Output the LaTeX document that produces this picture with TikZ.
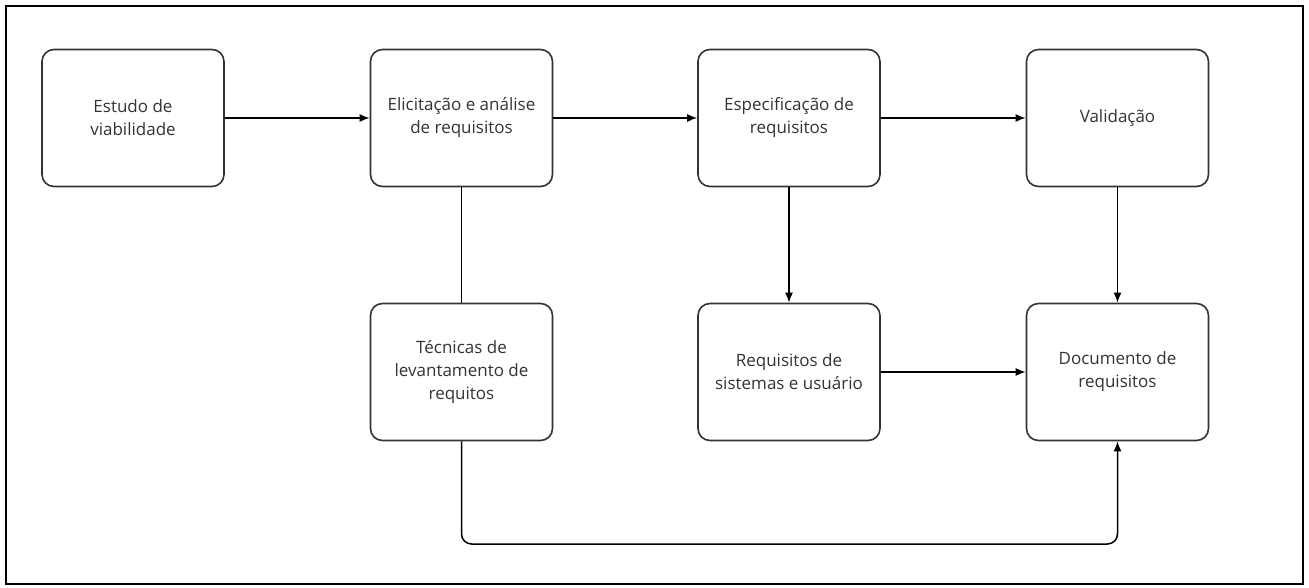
\documentclass[tikz,border=0pt]{standalone}
\usepackage{fontspec}
\setmainfont{Open Sans}
\usetikzlibrary{arrows.meta}
\definecolor{ink}{HTML}{333333}
\tikzset{
  x=1pt,y=-1pt,
  stepbox/.style={draw=ink,line width=1.6pt,rounded corners=12pt,minimum width=182pt,minimum height=137pt,align=center,font=\fontsize{17}{23}\selectfont,text=ink,inner sep=0pt},
  conn/.style={draw=black,line width=1.5pt},
  arr/.style={conn,-{Latex[length=10pt,width=8pt]}}
}
\begin{document}
\begin{tikzpicture}
\useasboundingbox (0,0) rectangle (1309,588);
\draw[line width=2pt] (6,6) rectangle (1303,584);
\node[stepbox] (a) at (133,118) {Estudo de\\viabilidade};
\node[stepbox] (b) at (461.5,118) {Elicitação e análise\\de requisitos};
\node[stepbox] (c) at (789,118) {Especificação de\\requisitos};
\node[stepbox] (d) at (1117.5,118) {Validação};
\node[stepbox] (e) at (461.5,372) {Técnicas de\\levantamento de\\requitos};
\node[stepbox] (f) at (789,372) {Requisitos de\\sistemas e usuário};
\node[stepbox] (g) at (1117.5,372) {Documento de\\requisitos};
\coordinate (p1) at (461.5,544);
\coordinate (p2) at (1117.5,544);
\draw[arr] (a) -- (b);
\draw[arr] (b) -- (c);
\draw[arr] (c) -- (d);
\draw[conn] (b) -- (e);
\draw[arr] (c) -- (f);
\draw[arr] (d) -- (g);
\draw[arr] (f) -- (g);
\draw[arr,rounded corners=10pt] (e.south) -- (p1) -- (p2) -- (g.south);
\end{tikzpicture}
\end{document}
